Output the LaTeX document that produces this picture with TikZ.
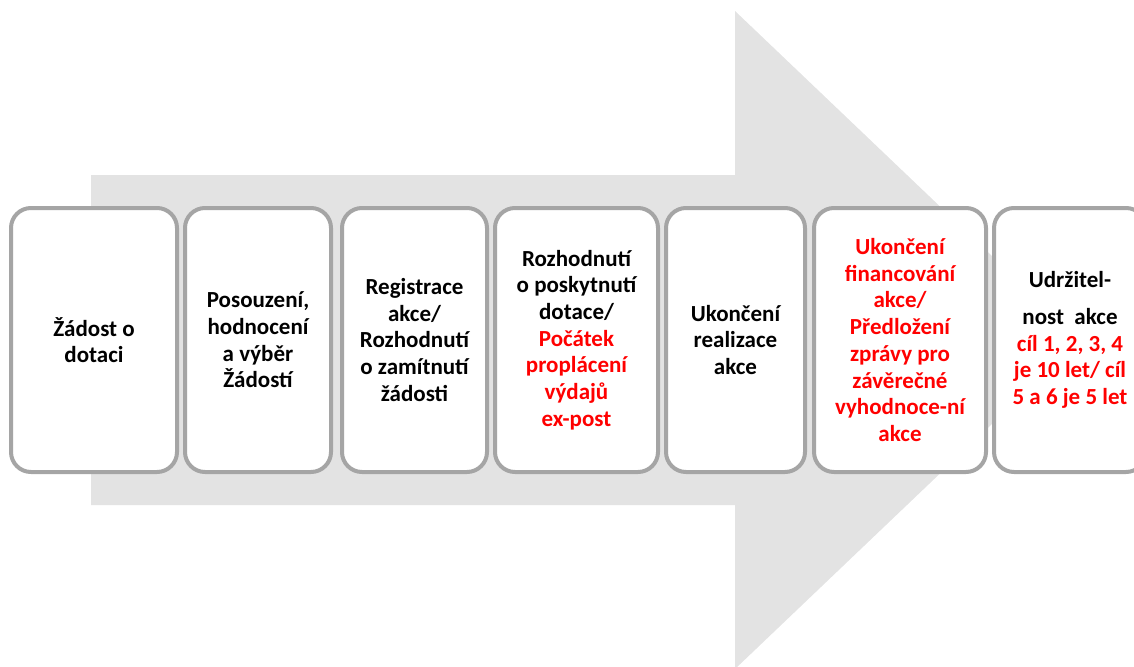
\documentclass[tikz,border=0pt]{standalone}
\usepackage{fontspec}
\setmainfont{Carlito}
\definecolor{arrowgray}{HTML}{E3E3E3}
\definecolor{boxgray}{HTML}{A5A5A5}
\definecolor{hl}{HTML}{FF0000}
\tikzset{
  stepbox/.style={draw=boxgray, line width=4pt, fill=white, rounded corners=20pt,
    minimum height=264pt, inner sep=0pt, align=center,
    font=\fontsize{23}{26.7}\selectfont\bfseries},
}
\begin{document}
\begin{tikzpicture}[x=1pt,y=-1pt]
\useasboundingbox (0,0) rectangle (1134,666);
\fill[arrowgray] (91,175) -- (735,175) -- (735,11) -- (1080,340) -- (735,669) -- (735,505) -- (91,505) -- cycle;
\node[stepbox, minimum width=166pt] (s1) at (94,340) {Žádost o\\dotaci};
\node[stepbox, minimum width=146pt] (s2) at (258,340) {Posouzení,\\hodnocení\\a výběr\\Žádostí};
\node[stepbox, minimum width=145pt] (s3) at (414.5,340) {Registrace\\akce/\\Rozhodnutí\\o zamítnutí\\žádosti};
\node[stepbox, minimum width=163pt] (s4) at (576.5,340) {Rozhodnutí\\o poskytnutí\\dotace/\\\textcolor{hl}{Počátek}\\\textcolor{hl}{proplácení}\\\textcolor{hl}{výdajů}\\\textcolor{hl}{ex-post}};
\node[stepbox, minimum width=139pt] (s5) at (735.5,340) {Ukončení\\realizace\\akce};
\node[stepbox, minimum width=172pt, text=hl] (s6) at (900,340) {Ukončení\\financování\\akce/\\Předložení\\zprávy pro\\závěrečné\\vyhodnoce-ní\\akce};
\node[stepbox, minimum width=152pt] (s7) at (1070,340) {Udržitel-\\[10pt]nost~~akce\\\textcolor{hl}{cíl 1, 2, 3, 4}\\\textcolor{hl}{je 10 let/ cíl}\\\textcolor{hl}{5 a 6 je 5 let}};
\end{tikzpicture}
\end{document}
